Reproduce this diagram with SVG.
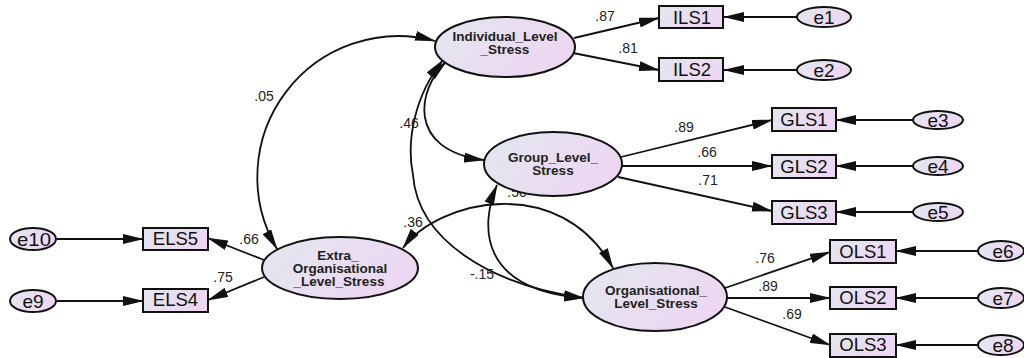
<svg xmlns="http://www.w3.org/2000/svg" width="1024" height="358" viewBox="0 0 1024 358">
<defs>
<linearGradient id="g" x1="0" y1="0.3" x2="1" y2="0.7">
<stop offset="0" stop-color="#e3e6ef"/>
<stop offset="1" stop-color="#eed5f2"/>
</linearGradient>
<marker id="ah" viewBox="0 0 21 10" markerWidth="21" markerHeight="10" refX="20" refY="5" orient="auto-start-reverse" markerUnits="userSpaceOnUse"><path d="M0,0 L21,5 L0,10 Z" fill="#111"/></marker>
</defs>
<style>
.n{fill:url(#g);stroke:#111;stroke-width:2}
.lt{font-family:"Liberation Sans",Arial,sans-serif;font-weight:bold;font-size:13.5px;fill:#222;text-anchor:middle}
.it{font-family:"Liberation Sans",Arial,sans-serif;font-size:18.5px;fill:#111;text-anchor:middle}
.et{font-family:"Liberation Sans",Arial,sans-serif;font-size:19px;fill:#111;text-anchor:middle}
.lb{font-family:"Liberation Sans",Arial,sans-serif;font-size:14px;fill:#222;text-anchor:middle}
.c line,.c path{fill:none;stroke:#111;stroke-width:1.8}
.c line{marker-end:url(#ah)}
.c path{marker-start:url(#ah);marker-end:url(#ah)}
</style>
<rect width="1024" height="358" fill="#fff"/>

<g id="connectors" class="c">
<line x1="797" y1="17" x2="724" y2="17"/>
<line x1="797" y1="70" x2="724" y2="70"/>
<line x1="574" y1="38" x2="659" y2="18"/>
<line x1="573" y1="53" x2="659" y2="70"/>
<line x1="913" y1="120" x2="836" y2="120"/>
<line x1="913" y1="166" x2="836" y2="166"/>
<line x1="913" y1="212" x2="836" y2="212"/>
<line x1="621" y1="157" x2="772" y2="120"/>
<line x1="622" y1="166" x2="772" y2="166"/>
<line x1="618" y1="177" x2="772" y2="211"/>
<line x1="978" y1="251" x2="896" y2="251"/>
<line x1="978" y1="298" x2="896" y2="298"/>
<line x1="978" y1="345" x2="896" y2="345"/>
<line x1="725" y1="288" x2="830" y2="252"/>
<line x1="727" y1="298" x2="830" y2="298"/>
<line x1="725" y1="307" x2="830" y2="345"/>
<line x1="57" y1="239" x2="143" y2="239"/>
<line x1="57" y1="301" x2="143" y2="301"/>
<line x1="264" y1="260" x2="208" y2="238"/>
<line x1="264" y1="277" x2="208" y2="300"/>
<path d="M435,41 A141 141 0 0 0 277,249"/>
<path d="M446,62 C418,88 405,150 484,160"/>
<path d="M443,60 C415,95 406,140 413,175 C418,240 490,285 584,298"/>
<path d="M497,185 C480,225 478,290 584,298"/>
<path d="M403,248 C438,200 560,172 613,268"/>
<text class="lb" x="605" y="21">.87</text>
<text class="lb" x="628" y="53">.81</text>
<text class="lb" x="684" y="132">.89</text>
<text class="lb" x="707" y="157">.66</text>
<text class="lb" x="708" y="185">.71</text>
<text class="lb" x="765" y="263">.76</text>
<text class="lb" x="768" y="291">.89</text>
<text class="lb" x="792" y="319">.69</text>
<text class="lb" x="249" y="244">.66</text>
<text class="lb" x="223" y="282">.75</text>
<text class="lb" x="264" y="101">.05</text>
<text class="lb" x="409" y="128">.46</text>
<text class="lb" x="413" y="227">.36</text>
<text class="lb" x="517" y="197">.50</text>
<text class="lb" x="482" y="279">-.15</text>
</g>

<g id="Individual_Level_Stress">
<ellipse class="n" cx="505" cy="47" rx="70" ry="30"/>
<text class="lt" x="505" y="41">Individual_Level</text>
<text class="lt" x="505" y="54">_Stress</text>
</g>
<g id="Group_Level_Stress">
<ellipse class="n" cx="553" cy="164" rx="69" ry="32"/>
<text class="lt" x="553" y="162">Group_Level_</text>
<text class="lt" x="553" y="175">Stress</text>
</g>
<g id="Extra_Organisational_Level_Stress">
<ellipse class="n" cx="340" cy="268" rx="78" ry="31"/>
<text class="lt" x="338" y="260">Extra_</text>
<text class="lt" x="340" y="273">Organisational</text>
<text class="lt" x="339" y="286">_Level_Stress</text>
</g>
<g id="Organisational_Level_Stress">
<ellipse class="n" cx="655" cy="297" rx="72" ry="34"/>
<text class="lt" x="656" y="295">Organisational_</text>
<text class="lt" x="656" y="308">Level_Stress</text>
</g>

<g id="ILS1"><rect class="n" x="659" y="6" width="64" height="22"/><text class="it" x="692" y="24">ILS1</text></g>
<g id="ILS2"><rect class="n" x="659" y="58" width="64" height="23"/><text class="it" x="692" y="76">ILS2</text></g>
<g id="GLS1"><rect class="n" x="772" y="108" width="64" height="23"/><text class="it" x="804" y="126">GLS1</text></g>
<g id="GLS2"><rect class="n" x="772" y="155" width="64" height="23"/><text class="it" x="804" y="173">GLS2</text></g>
<g id="GLS3"><rect class="n" x="772" y="201" width="64" height="23"/><text class="it" x="804" y="219">GLS3</text></g>
<g id="OLS1"><rect class="n" x="830" y="240" width="66" height="23"/><text class="it" x="863" y="258">OLS1</text></g>
<g id="OLS2"><rect class="n" x="830" y="287" width="66" height="22"/><text class="it" x="863" y="304">OLS2</text></g>
<g id="OLS3"><rect class="n" x="830" y="334" width="66" height="23"/><text class="it" x="863" y="351">OLS3</text></g>
<g id="ELS5"><rect class="n" x="143" y="228" width="65" height="22"/><text class="it" x="175.5" y="245">ELS5</text></g>
<g id="ELS4"><rect class="n" x="143" y="289" width="65" height="23"/><text class="it" x="175.5" y="306">ELS4</text></g>

<g id="e1"><ellipse class="n" cx="824" cy="17" rx="27" ry="10"/><text class="et" x="824" y="24">e1</text></g>
<g id="e2"><ellipse class="n" cx="824" cy="70" rx="27" ry="10"/><text class="et" x="824" y="77">e2</text></g>
<g id="e3"><ellipse class="n" cx="938" cy="120" rx="25" ry="9"/><text class="et" x="938" y="127">e3</text></g>
<g id="e4"><ellipse class="n" cx="938" cy="166" rx="25" ry="9"/><text class="et" x="938" y="173">e4</text></g>
<g id="e5"><ellipse class="n" cx="938" cy="212" rx="25" ry="9"/><text class="et" x="938" y="219">e5</text></g>
<g id="e6"><ellipse class="n" cx="1001" cy="251" rx="23" ry="10"/><text class="et" x="1003" y="258">e6</text></g>
<g id="e7"><ellipse class="n" cx="1001" cy="298" rx="23" ry="10"/><text class="et" x="1003" y="305">e7</text></g>
<g id="e8"><ellipse class="n" cx="1001" cy="345" rx="23" ry="10"/><text class="et" x="1003" y="352">e8</text></g>
<g id="e10"><ellipse class="n" cx="33" cy="239" rx="23" ry="11"/><text class="et" x="34" y="246" textLength="34" lengthAdjust="spacingAndGlyphs">e10</text></g>
<g id="e9"><ellipse class="n" cx="33" cy="301" rx="23" ry="11"/><text class="et" x="33" y="308">e9</text></g>
</svg>
